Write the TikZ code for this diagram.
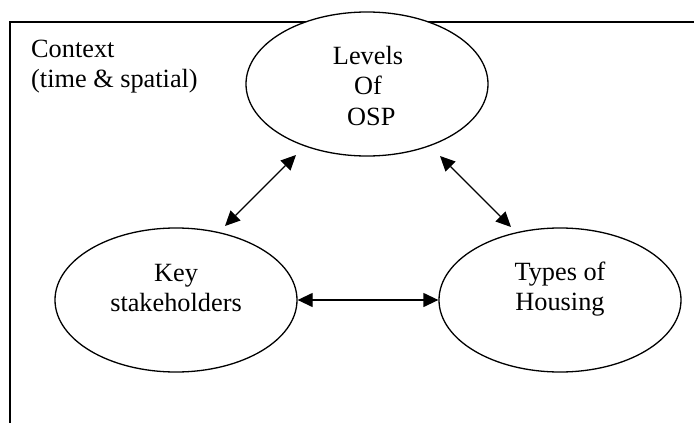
\documentclass[tikz,border=0pt]{standalone}
\usepackage{fontspec}
\setmainfont{Liberation Serif}
\usetikzlibrary{arrows.meta,calc,shapes.geometric}
\tikzset{
  oval/.style={ellipse, draw, line width=1.3pt, fill=white, minimum width=242pt, minimum height=144pt, inner sep=0pt},
  lbl/.style={inner sep=0pt, align=center, font=\fontsize{26.3}{30.2}\selectfont},
  biarrow/.style={line width=1.3pt, {Triangle[length=15pt,width=14pt]}-{Triangle[length=15pt,width=14pt]}},
  frame/.style={line width=1.5pt}
}
\begin{document}
\begin{tikzpicture}[x=1pt,y=-1pt]
\useasboundingbox (0,0) rectangle (694,423);
\coordinate (fb) at (10,423);
\coordinate (fc) at (10,22);
\coordinate (fr) at (694,22);
\draw[frame] (fb) -- (fc) -- (fr);
\node[lbl, align=left, anchor=west] (ctx) at (31,66.4) {Context\\(time \& spatial)};
\node[oval] (osp) at (367,84) {};
\node[oval] (ks) at (176,300) {};
\node[oval] (th) at (560,300) {};
\node[lbl] (osptxt) at (368,86) {Levels\\Of\\\hspace*{6.6pt}OSP};
\node[lbl] (kstxt) at (176,288) {Key\\stakeholders};
\node[lbl] (thtxt) at (560,289.4) {Types of\\Housing};
\draw[biarrow] (ks.east) -- (th.west);
\draw[biarrow] ($(ks.center)+(49,-74)$) -- ($(osp.center)+(-71,71)$);
\draw[biarrow] ($(th.center)+(-49,-73)$) -- ($(osp.center)+(73,72)$);
\end{tikzpicture}
\end{document}
